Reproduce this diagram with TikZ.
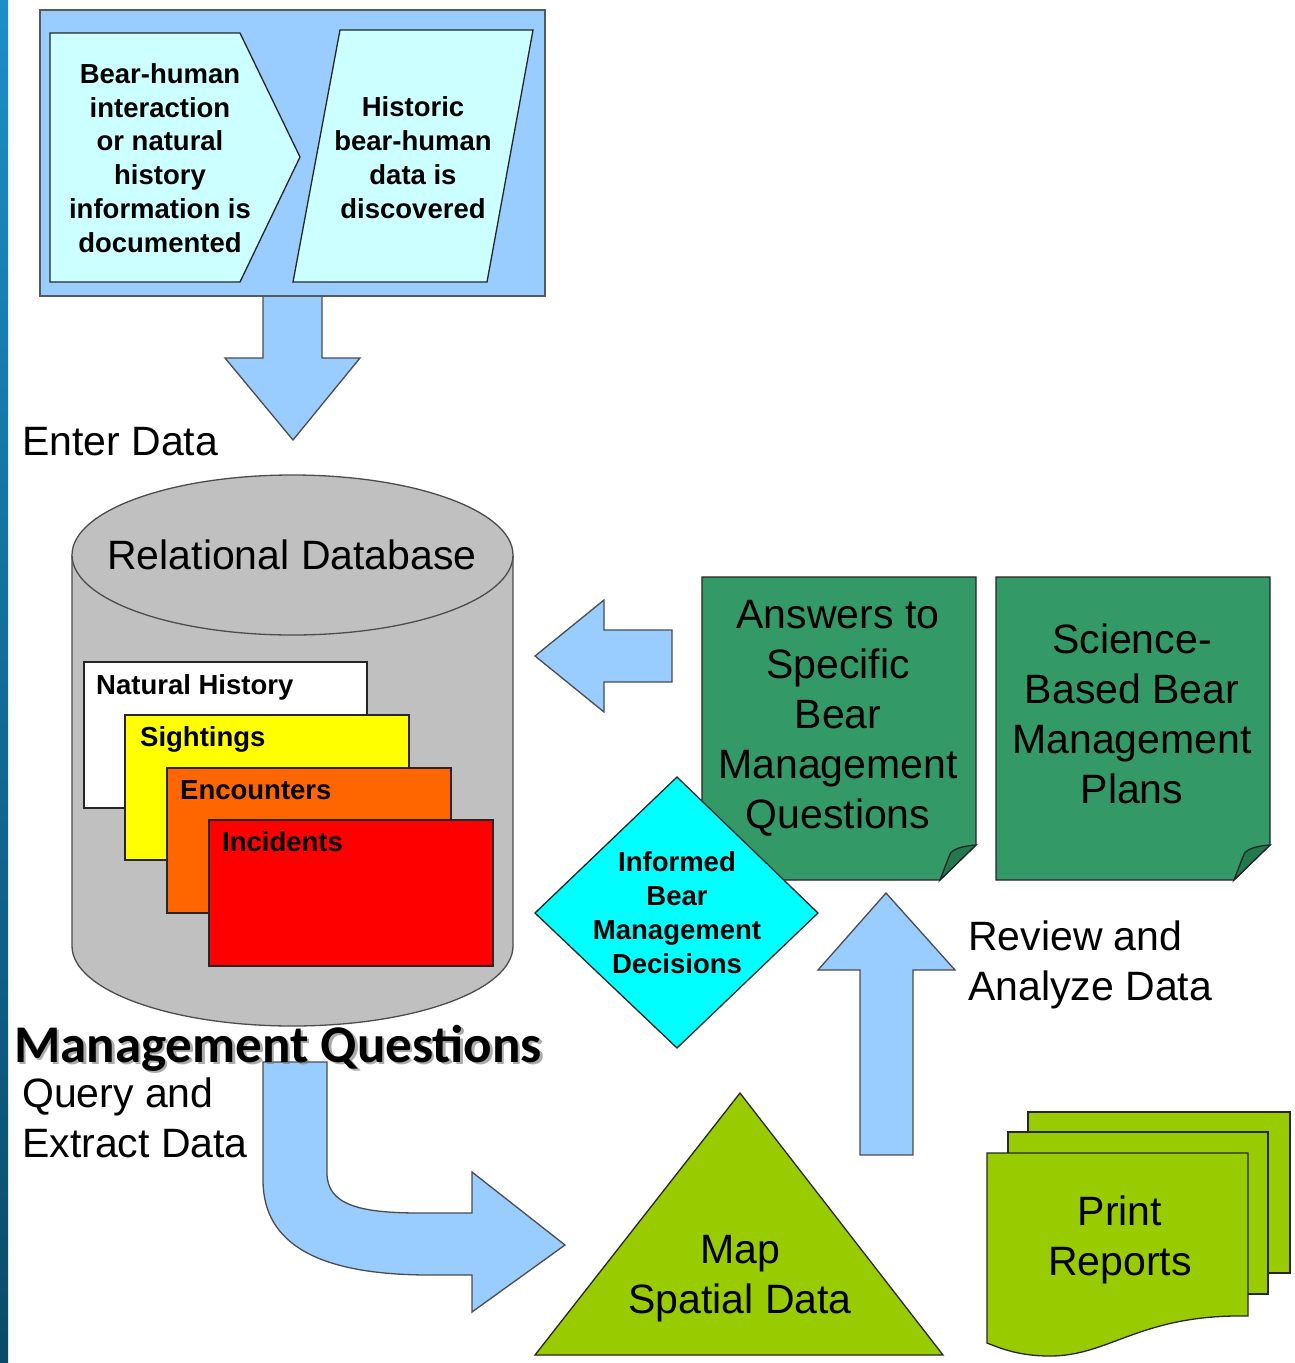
\documentclass[tikz,border=0pt]{standalone}
\usepackage{fontspec}
\setmainfont{Liberation Sans}
\newfontfamily\calibfont{Carlito}
\definecolor{lblue}{HTML}{99CCFF}
\definecolor{pcyan}{HTML}{CCFFFF}
\definecolor{dcyan}{HTML}{00FFFF}
\definecolor{dgreen}{HTML}{339966}
\definecolor{dgreenf}{HTML}{24784D}
\definecolor{lgreen}{HTML}{99CC00}
\definecolor{dbgray}{HTML}{C0C0C0}
\definecolor{orng}{HTML}{FF6600}
\definecolor{yell}{HTML}{FFFF00}
\definecolor{rred}{HTML}{FF0000}
\definecolor{striptop}{HTML}{1B8FC6}
\definecolor{stripbot}{HTML}{0B4A68}
\tikzset{
  outl/.style={draw=black!85, line width=1.3pt, line join=miter},
  bigtxt/.style={font=\fontsize{41}{50}\selectfont, inner sep=0pt, align=center},
  bigleft/.style={font=\fontsize{41}{50}\selectfont, inner sep=0pt, align=left},
  smalltxt/.style={font=\fontsize{27.5}{33.7}\selectfont\bfseries, inner sep=0pt, align=center},
  tabtxt/.style={font=\fontsize{27.5}{33.7}\selectfont\bfseries, inner sep=0pt, anchor=base west},
  blockarrow/.style={outl, draw=black!70, fill=lblue},
  mqfont/.style={font=\fontsize{53}{60}\selectfont\calibfont\bfseries, inner sep=0pt, anchor=base west},
}
\begin{document}
\begin{tikzpicture}[x=1pt,y=-1pt]
\useasboundingbox (0,0) rectangle (1295,1363);
\fill[white] (0,0) rectangle (1295,1363);
% left strip
\shade[top color=striptop, bottom color=stripbot] (0,0) rectangle (8,1363);

% top box
\draw[fill=lblue, draw=black!65, line width=1.6pt] (40,10) rectangle (545,296);
\draw[outl, fill=pcyan] (50,33) -- (240,33) -- (300,157) -- (240,282) -- (50,282) -- cycle;
\draw[outl, fill=pcyan] (340,30) -- (533,30) -- (487,282) -- (293,282) -- cycle;
% down arrow
\draw[blockarrow] (263,297) -- (263,358) -- (225,358) -- (293,440) -- (360,358) -- (322,358) -- (322,297);

% cylinder
\path[fill=dbgray, draw=black!70, line width=1.3pt] (72,555) -- (72,946)
  arc[start angle=180, end angle=0, x radius=220.5, y radius=80] -- (513,555);
\draw[fill=dbgray, draw=black!70, line width=1.3pt] (292.5,555) ellipse [x radius=220.5, y radius=80];
% tables
\draw[outl, fill=white] (84,662) rectangle (367,808);
\draw[outl, fill=yell] (125,715) rectangle (409,860);
\draw[outl, fill=orng] (167,768) rectangle (451,913);
\draw[outl, fill=rred] (209,820) rectangle (493,966);

% left arrow
\draw[blockarrow] (672,630) -- (604,630) -- (604,600) -- (535,656) -- (604,712) -- (604,682) -- (672,682) -- cycle;

% green documents
\draw[outl, fill=dgreen] (702,577) -- (976,577) -- (976,845) -- (940,880) -- (702,880) -- cycle;
\draw[outl, fill=dgreenf] (976,845) .. controls (962,846) and (953,849) .. (950,854) -- (940,880) -- cycle;
\draw[outl, fill=dgreen] (996,577) -- (1270,577) -- (1270,845) -- (1234,880) -- (996,880) -- cycle;
\draw[outl, fill=dgreenf] (1270,845) .. controls (1256,846) and (1247,849) .. (1244,854) -- (1234,880) -- cycle;

% diamond
\draw[outl, fill=dcyan] (677,777) -- (818,913) -- (677,1048) -- (535,913) -- cycle;

% up arrow
\draw[blockarrow] (860,1155) -- (860,970) -- (818,970) -- (886,893) -- (955,970) -- (913,970) -- (913,1155) -- cycle;

% bent arrow
\draw[blockarrow] (263,1062) -- (327,1062) -- (327,1173)
  .. controls (327,1205) and (360,1213) .. (420,1213) -- (472,1213) -- (472,1172)
  -- (565,1245) -- (472,1312) -- (472,1275) -- (430,1275)
  .. controls (320,1275) and (263,1245) .. (263,1180) -- cycle;

% triangle
\draw[outl, fill=lgreen] (740,1093) -- (943,1355) -- (535,1355) -- cycle;

% print reports
\draw[outl, fill=lgreen] (1028,1112) rectangle (1290,1273);
\draw[outl, fill=lgreen] (1008,1132) rectangle (1268,1294);
\draw[outl, fill=lgreen] (987,1153) -- (1248,1153) -- (1248,1316)
  .. controls (1140,1314) and (1110,1356) .. (1050,1356)
  .. controls (1020,1356) and (1002,1349) .. (987,1343) -- cycle;

% texts (base anchor = baseline of last line)
\node[smalltxt, anchor=base] (t1) at (160,252) {Bear-human\\interaction\\or natural\\history\\information is\\documented};
\node[smalltxt, anchor=base] (t2) at (413,218) {Historic\\bear-human\\data is\\discovered};
\node[bigleft, anchor=base west] (enter) at (22,455) {Enter Data};
\node[bigtxt, anchor=base] (reldb) at (292,569) {Relational Database};
\node[tabtxt] (nh) at (96,694) {Natural History};
\node[tabtxt] (si) at (140,746) {Sightings};
\node[tabtxt] (en) at (180,799) {Encounters};
\node[tabtxt] (inc) at (222,851) {Incidents};
\node[bigtxt, anchor=base] (ans) at (838,828) {Answers to\\Specific\\Bear\\Management\\Questions};
\node[bigtxt, anchor=base] (sci) at (1132,803) {Science-\\Based Bear\\Management\\Plans};
\node[smalltxt, anchor=base] (dec) at (677,973) {Informed\\Bear\\Management\\Decisions};
\node[bigleft, anchor=base west] (rev) at (968,1000) {Review and\\Analyze Data};
\node[bigleft, anchor=base west] (query) at (22,1157) {Query and\\Extract Data};
\node[bigtxt, anchor=base] (map) at (740,1313) {Map\\Spatial Data};
\node[bigtxt, anchor=base] (print) at (1120,1275) {Print\\Reports};
% Management Questions with shadow
\node[mqfont, text=black!55, opacity=0.6] (mqshadow) at (16.5,1064.5) {Management Questions};
\node[mqfont] (mq) at (14,1062) {Management Questions};
\end{tikzpicture}
\end{document}
